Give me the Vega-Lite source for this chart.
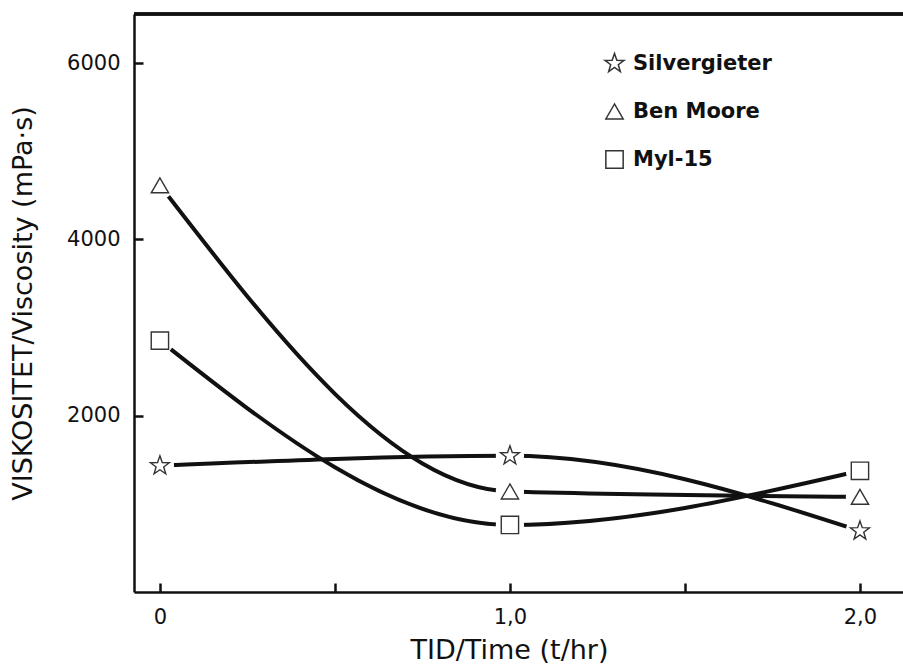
{
  "$schema": "https://vega.github.io/schema/vega-lite/v6.json",
  "autosize": "none",
  "width": 769,
  "height": 578,
  "padding": {"left": 134, "top": 14, "right": 0, "bottom": 76},
  "background": "white",
  "config": {"view": {"stroke": null}, "font": "DejaVu Sans"},
  "data": {
    "values": [
      {"series": "Silvergieter", "time": 0, "visc": 1432},
      {"series": "Silvergieter", "time": 1, "visc": 1545},
      {"series": "Silvergieter", "time": 2, "visc": 693},
      {"series": "Ben Moore", "time": 0, "visc": 4614},
      {"series": "Ben Moore", "time": 1, "visc": 1140},
      {"series": "Ben Moore", "time": 2, "visc": 1080},
      {"series": "Myl-15", "time": 0, "visc": 2852},
      {"series": "Myl-15", "time": 1, "visc": 761},
      {"series": "Myl-15", "time": 2, "visc": 1375}
    ]
  },
  "layer": [
    {
      "mark": {"type": "rule", "color": "#111", "strokeWidth": 2.5},
      "encoding": {
        "y": {"datum": 6557, "type": "quantitative"}
      }
    },
    {
      "mark": {"type": "line", "interpolate": "monotone", "color": "#111", "strokeWidth": 4},
      "encoding": {
        "x": {
          "field": "time", "type": "quantitative",
          "scale": {"domain": [-0.074, 2.123], "nice": false, "zero": false},
          "axis": {
            "title": "TID/Time (t/hr)",
            "values": [0, 0.5, 1, 1.5, 2],
            "labelExpr": "datum.value == 0 ? '0' : (datum.value == 1 ? '1,0' : (datum.value == 2 ? '2,0' : ''))",
            "grid": false,
            "tickSize": -9, "tickWidth": 2.5, "tickColor": "#111",
            "domainWidth": 2.5, "domainColor": "#111",
            "labelFontSize": 21, "labelPadding": 23, "labelColor": "#111",
            "labelFlush": false, "labelOverlap": false,
            "titleFontSize": 27, "titleFontWeight": "normal", "titleColor": "#111",
            "titleX": 375, "titleY": 58, "titleBaseline": "middle", "titleAlign": "center"
          }
        },
        "y": {
          "field": "visc", "type": "quantitative",
          "scale": {"domain": [0, 6557], "nice": false},
          "axis": {
            "title": "VISKOSITET/Viscosity (mPa·s)",
            "values": [2000, 4000, 6000],
            "format": "d",
            "grid": false,
            "tickSize": -9, "tickWidth": 2.5, "tickColor": "#111",
            "domainWidth": 2.5, "domainColor": "#111",
            "labelFontSize": 21, "labelPadding": 23, "labelColor": "#111",
            "titleFontSize": 27, "titleFontWeight": "normal", "titleColor": "#111",
            "titleX": -111, "titleY": 289, "titleBaseline": "middle", "titleAlign": "center", "titleAngle": 270
          }
        },
        "detail": {"field": "series"}
      }
    },
    {
      "mark": {"type": "point", "filled": true, "fill": "white", "strokeWidth": 0, "size": 800, "opacity": 1},
      "encoding": {
        "x": {"field": "time", "type": "quantitative"},
        "y": {"field": "visc", "type": "quantitative"}
      }
    },
    {
      "mark": {"type": "point", "filled": true, "fill": "white", "stroke": "#333", "strokeWidth": 1.4, "size": 300, "opacity": 1},
      "encoding": {
        "x": {"field": "time", "type": "quantitative"},
        "y": {"field": "visc", "type": "quantitative"},
        "shape": {
          "field": "series", "type": "nominal",
          "scale": {
            "domain": ["Silvergieter", "Ben Moore", "Myl-15"],
            "range": [
              "M0,-1.15L0.27,-0.373L1.094,-0.355L0.437,0.143L0.676,0.93L0,0.46L-0.676,0.93L-0.437,0.143L-1.094,-0.355L-0.27,-0.373Z",
              "triangle-up",
              "square"
            ]
          },
          "legend": {
            "title": null,
            "orient": "none",
            "legendX": 470,
            "legendY": 39,
            "padding": 0,
            "labelFontSize": 21,
            "labelFontWeight": "bold",
            "labelColor": "#111",
            "labelOffset": 8,
            "symbolSize": 300,
            "rowPadding": 25,
            "encode": {
              "symbols": {
                "update": {
                  "fill": {"value": "white"},
                  "stroke": {"value": "#333"},
                  "strokeWidth": {"value": 1.4},
                  "opacity": {"value": 1}
                }
              }
            }
          }
        }
      }
    }
  ]
}
